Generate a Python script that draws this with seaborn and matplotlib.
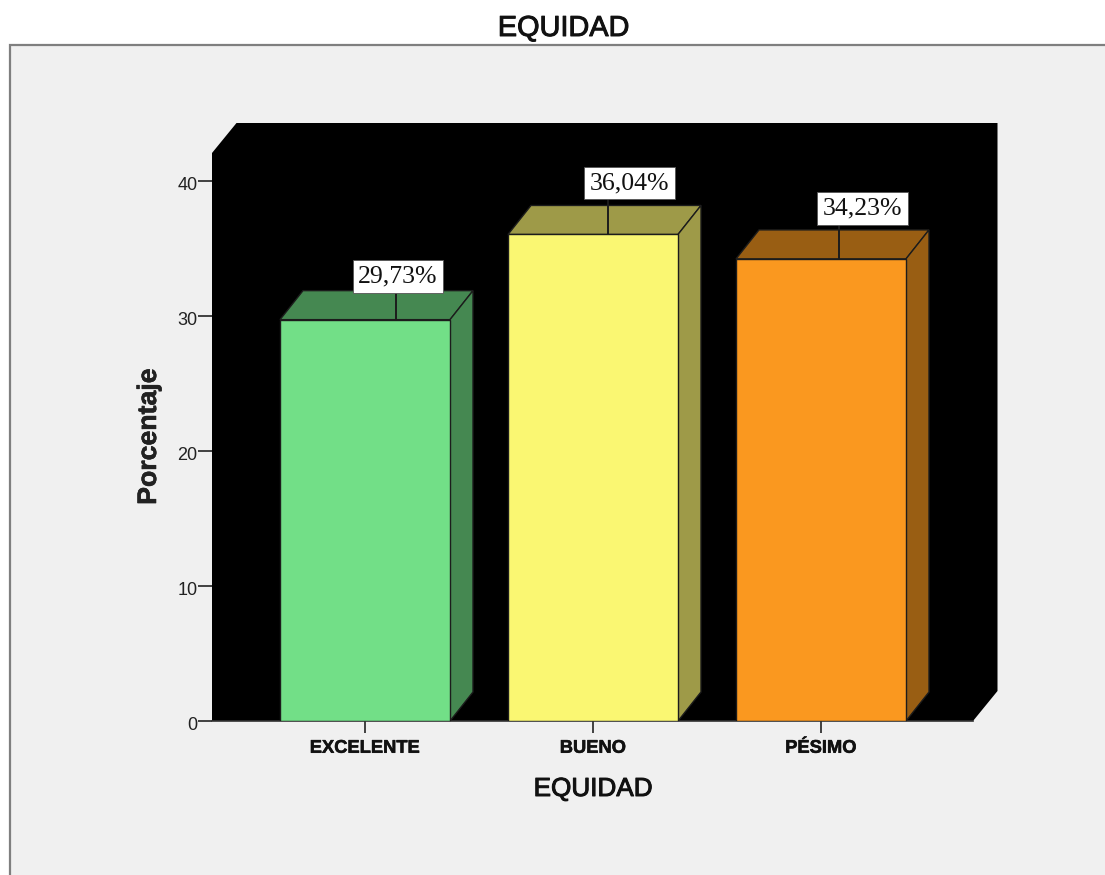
import matplotlib
matplotlib.use("Agg")
import matplotlib.pyplot as plt
from matplotlib.patches import Polygon, Rectangle
from matplotlib.transforms import ScaledTranslation
import matplotlib.patheffects as pe
import seaborn as sns
import pandas as pd

categories = ["EXCELENTE", "BUENO", "PÉSIMO"]
percentages = [29.73, 36.04, 34.23]
y_ticks = [0, 10, 20, 30, 40]
title = "EQUIDAD"
x_label = "EQUIDAD"
y_label = "Porcentaje"

front_colors = ["#72DF87", "#FAF772", "#FA981F"]
shade_colors = ["#458851", "#9E9A48", "#995E13"]

W, H = 1105, 875
# plot frame in pixels
L, R, B, T = 212, 973, 721, 153
PX_Y = 13.5
PX_X = 228.0
DEPTH_X, DEPTH_Y = 24.5 / PX_X, 30 / PX_Y
BAR_DX, BAR_DY = 23 / PX_X, 29 / PX_Y
# leader-line and label placement relative to each bar's centre/top, pixels
leader_dx = [31, 15, 18]
leader_rise = [26, 34, 33]
label_dx = [33, 36.5, 41.5]
label_rise = [43, 51.5, 50.5]

sns.set_theme(style="white")
plt.rcParams["font.family"] = ["Liberation Sans", "DejaVu Sans"]

fig = plt.figure(figsize=(W / 100, H / 100), dpi=100, facecolor="white")
fig.add_artist(Rectangle((10 / W, -0.02), 1.02, (875 - 45) / H + 0.02,
                         transform=fig.transFigure, facecolor="#F0F0F0",
                         edgecolor="#7F7F7F", linewidth=1.6, zorder=-5))
ax = fig.add_axes([L / W, (H - B) / H, (R - L) / W, (B - T) / H], zorder=2)

df = pd.DataFrame({"cat": categories, "pct": percentages})
sns.barplot(data=df, x="cat", y="pct", hue="cat", palette=front_colors, order=categories,
            hue_order=categories, dodge=False, legend=False, width=170 / PX_X,
            edgecolor="#1c1c1c", linewidth=1.0, ax=ax, zorder=3, saturation=1)

x0 = (L - 365) / PX_X
x1 = (R - 365) / PX_X
y1 = (B - T) / PX_Y
ax.set_xlim(x0, x1)
ax.set_ylim(0, y1)
ax.set_facecolor("black")

# back wall / floor silhouette
ax.add_patch(Polygon([(x0, 0), (x0, y1), (x0 + DEPTH_X, y1 + DEPTH_Y),
                      (x1 + DEPTH_X, y1 + DEPTH_Y), (x1 + DEPTH_X, DEPTH_Y), (x1, 0)],
                     closed=True, facecolor="black", edgecolor="none",
                     clip_on=False, zorder=1))

bars = [p for p in ax.patches if isinstance(p, Rectangle)]
bars = sorted([b for b in bars if b.get_height() > 0], key=lambda b: b.get_x())
for i, bar in enumerate(bars):
    bl, br, h = bar.get_x(), bar.get_x() + bar.get_width(), bar.get_height()
    cx = (bl + br) / 2
    ax.add_patch(Polygon([(bl, h), (br, h), (br + BAR_DX, h + BAR_DY), (bl + BAR_DX, h + BAR_DY)],
                         closed=True, facecolor=shade_colors[i], edgecolor="#1c1c1c",
                         linewidth=1.0, clip_on=False, zorder=2.5))
    ax.add_patch(Polygon([(br, 0), (br, h), (br + BAR_DX, h + BAR_DY), (br + BAR_DX, BAR_DY)],
                         closed=True, facecolor=shade_colors[i], edgecolor="#1c1c1c",
                         linewidth=1.0, clip_on=False, zorder=2.5))
    lx = cx + leader_dx[i] / PX_X
    ax.plot([lx, lx], [h, h + (leader_rise[i] + 2) / PX_Y], color="#1c1c1c", lw=1.4,
            clip_on=False, zorder=2.8, solid_capstyle="butt")
    ax.text(cx + label_dx[i] / PX_X, h + label_rise[i] / PX_Y,
            f"{percentages[i]:.2f}%".replace(".", ","),
            ha="center", va="center", family=["Liberation Serif", "DejaVu Serif"],
            fontsize=18.5, color="#111111", zorder=5,
            bbox=dict(boxstyle="square,pad=0.21", facecolor="white",
                      edgecolor="#555555", linewidth=0.6))

heavy = [pe.withStroke(linewidth=0.7, foreground="#111111")]
light = [pe.withStroke(linewidth=0.4, foreground="#111111")]

ax.set_yticks(y_ticks)
ax.set_yticklabels([str(v) for v in y_ticks], fontsize=13, color="#222222")
ax.set_xticks(range(len(categories)))
ax.set_xticklabels(categories, fontsize=13.2, fontweight="bold", color="#111111", path_effects=light)
ax.tick_params(axis="y", direction="out", length=10, width=1.3, color="#333333", pad=0.5, left=True)
ax.tick_params(axis="x", direction="out", length=8.5, width=1.3, color="#333333", pad=5, bottom=True)
shift = ScaledTranslation(0, -2 / 72, fig.dpi_scale_trans)
for lab in ax.get_yticklabels():
    lab.set_transform(lab.get_transform() + shift)
for side in ("top", "right", "left"):
    ax.spines[side].set_visible(False)
ax.spines["bottom"].set_color("#333333")
ax.spines["bottom"].set_linewidth(1.2)
ax.set_xlabel("")
ax.set_ylabel("")

fig.text(593 / W, 1 - 789 / H, x_label, ha="center", va="center", fontsize=18.8, color="#111111",
         path_effects=heavy)
fig.text(149 / W, 1 - 437 / H, y_label, ha="center", va="center", rotation=90,
         fontsize=19.2, fontweight="bold", color="#222222", path_effects=light)
fig.text(563.5 / W, 1 - 28 / H, title, ha="center", va="center", fontsize=20.8, color="#111111",
         path_effects=heavy)

fig.savefig("out.png", dpi=100, facecolor=fig.get_facecolor())
